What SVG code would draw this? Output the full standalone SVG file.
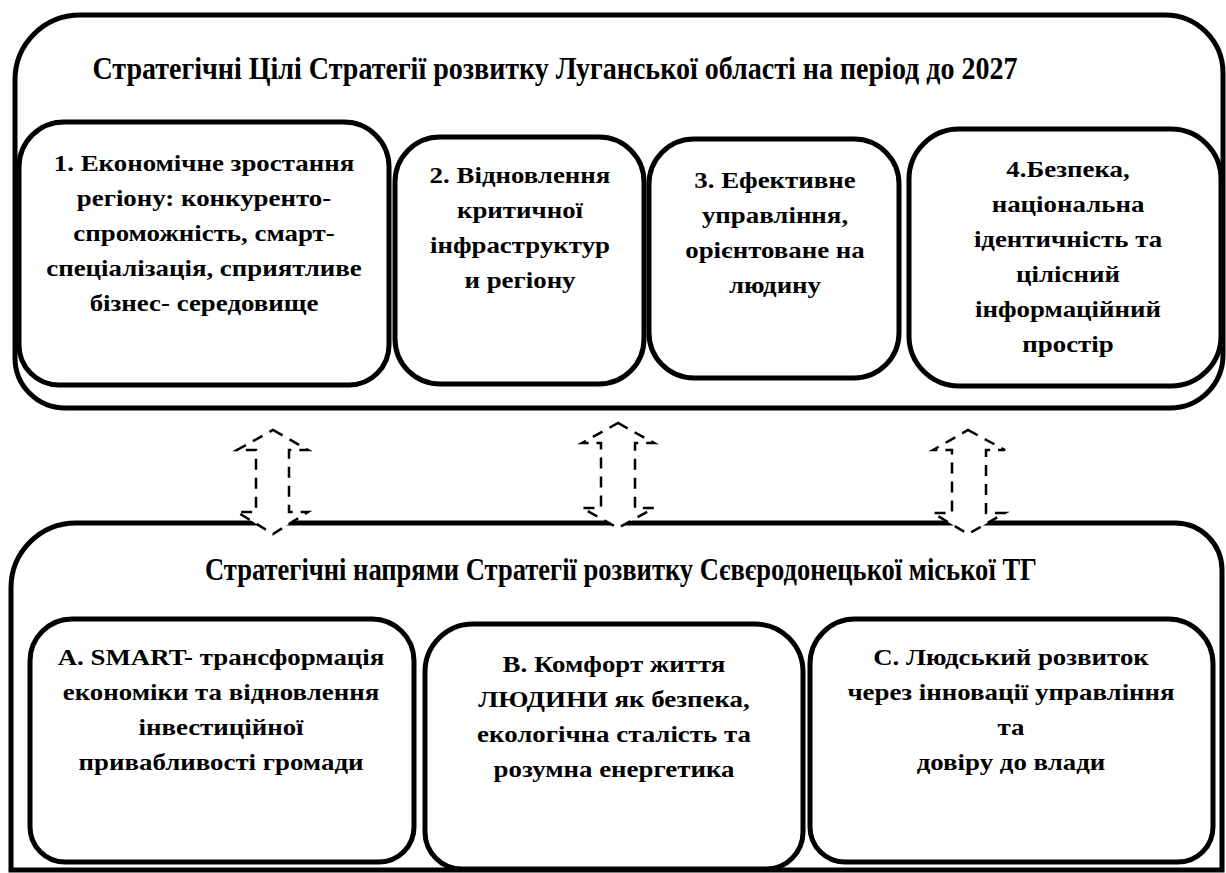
<svg xmlns="http://www.w3.org/2000/svg" width="1226" height="873" viewBox="0 0 1226 873">
<style>
.frame{fill:#fff;stroke:#000;stroke-width:5}
.box{fill:#fff;stroke:#000;stroke-width:5}
.t{font-weight:bold;fill:#000;text-anchor:middle}
.title{font-size:31px}
.bt{font-size:24px}
.arr{fill:#fff;stroke:#000;stroke-width:2.5;stroke-dasharray:11 8;stroke-linejoin:miter}
</style>
<rect width="1226" height="873" fill="#fff"/>
<g font-family="'Liberation Serif', 'Times New Roman', serif">
<g id="top-container">
<path class="frame" d="M80,15 H1165 A58,58 0 0 1 1223,73 V355 A53,53 0 0 1 1170,408 H65 A50,50 0 0 1 15,358 V80 A65,65 0 0 1 80,15 Z"/>
<text class="t title" x="555" y="79" textLength="925" lengthAdjust="spacingAndGlyphs">Стратегічні Цілі Стратегії розвитку Луганської області на період до 2027</text>
</g>
<g id="goal1">
<path class="box" d="M65,122 H344 A45,45 0 0 1 389,167 V345 A40,40 0 0 1 349,385 H59 A40,40 0 0 1 19,345 V167 A45,45 0 0 1 65,122 Z"/>
<g transform="translate(204,0) scale(1.12,1)">
<text class="t bt" x="0" y="171">1. Економічне зростання</text>
<text class="t bt" x="0" y="206">регіону: конкуренто-</text>
<text class="t bt" x="0" y="241">спроможність, смарт-</text>
<text class="t bt" x="0" y="276">спеціалізація, сприятливе</text>
<text class="t bt" x="0" y="311">бізнес- середовище</text>
</g>
</g>
<g id="goal2">
<rect class="box" x="395" y="137" width="249" height="247" rx="45" ry="45"/>
<g transform="translate(520,0) scale(1.12,1)">
<text class="t bt" x="0" y="183">2. Відновлення</text>
<text class="t bt" x="0" y="218">критичної</text>
<text class="t bt" x="0" y="253">інфраструктур</text>
<text class="t bt" x="0" y="288">и регіону</text>
</g>
</g>
<g id="goal3">
<rect class="box" x="649" y="139" width="250" height="239" rx="45" ry="45"/>
<g transform="translate(775,0) scale(1.12,1)">
<text class="t bt" x="0" y="188">3. Ефективне</text>
<text class="t bt" x="0" y="223">управління,</text>
<text class="t bt" x="0" y="258">орієнтоване на</text>
<text class="t bt" x="0" y="293">людину</text>
</g>
</g>
<g id="goal4">
<rect class="box" x="909" y="129" width="312" height="257" rx="50" ry="50"/>
<g transform="translate(1068,0) scale(1.12,1)">
<text class="t bt" x="0" y="177">4.Безпека,</text>
<text class="t bt" x="0" y="212">національна</text>
<text class="t bt" x="0" y="247">ідентичність та</text>
<text class="t bt" x="0" y="282">цілісний</text>
<text class="t bt" x="0" y="317">інформаційний</text>
<text class="t bt" x="0" y="352">простір</text>
</g>
</g>
<g id="bottom-container">
<path class="frame" d="M76,523 H1175 A47,47 0 0 1 1222,570 V870 H11 V588 A65,65 0 0 1 76,523 Z"/>
<text class="t title" x="621" y="580" textLength="832" lengthAdjust="spacingAndGlyphs">Стратегічні напрями Стратегії розвитку Сєвєродонецької міської ТГ</text>
</g>
<g id="dirA">
<path class="box" d="M72,619 H372 A42,42 0 0 1 414,661 V827 A35,35 0 0 1 379,862 H65 A35,35 0 0 1 30,827 V661 A42,42 0 0 1 72,619 Z"/>
<g transform="translate(221,0) scale(1.12,1)">
<text class="t bt" x="0" y="665">A. SMART- трансформація</text>
<text class="t bt" x="0" y="700">економіки та відновлення</text>
<text class="t bt" x="0" y="735">інвестиційної</text>
<text class="t bt" x="0" y="770">привабливості громади</text>
</g>
</g>
<g id="dirB">
<path class="box" d="M473,624 H755 A48,48 0 0 1 803,672 V832 A37,37 0 0 1 766,869 H462 A37,37 0 0 1 425,832 V672 A48,48 0 0 1 473,624 Z"/>
<g transform="translate(614,0) scale(1.12,1)">
<text class="t bt" x="0" y="672">B. Комфорт життя</text>
<text class="t bt" x="0" y="707">ЛЮДИНИ як безпека,</text>
<text class="t bt" x="0" y="742">екологічна сталість та</text>
<text class="t bt" x="0" y="777">розумна енергетика</text>
</g>
</g>
<g id="dirC">
<path class="box" d="M855,619 H1168 A45,45 0 0 1 1213,664 V827 A35,35 0 0 1 1178,862 H845 A35,35 0 0 1 810,827 V664 A45,45 0 0 1 855,619 Z"/>
<g transform="translate(1011,0) scale(1.12,1)">
<text class="t bt" x="0" y="665">C. Людський розвиток</text>
<text class="t bt" x="0" y="700">через інновації управління</text>
<text class="t bt" x="0" y="735">та</text>
<text class="t bt" x="0" y="770">довіру до влади</text>
</g>
</g>
</g>
<g id="connectors">
<path class="arr" d="M273,430 L308,450 H289 V512 H308 L273,534 L237,512 H256 V450 H237 Z"/>
<path class="arr" d="M618,423 L654,443 H635 V508 H654 L618,528 L582,508 H601 V443 H582 Z"/>
<path class="arr" d="M968,430 L1005,450 H986 V513 H1005 L968,534 L933,513 H952 V450 H933 Z"/>
</g>
</svg>
